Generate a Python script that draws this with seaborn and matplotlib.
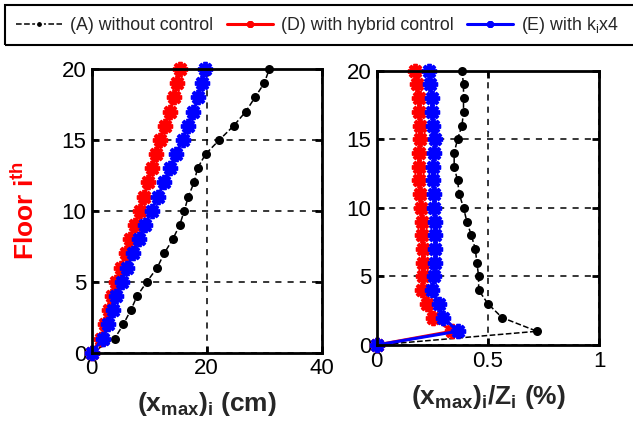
import numpy as np
import pandas as pd
import matplotlib
matplotlib.use("Agg")
import matplotlib.pyplot as plt
from matplotlib.patches import Rectangle
import seaborn as sns

# ---- data ----
floors = list(range(0, 21))
disp_A = [0, 4.0, 5.5, 6.8, 7.9, 9.6, 11.4, 12.6, 14.1, 15.3, 16.1, 16.8, 17.8, 18.4,
          19.8, 22.2, 24.7, 26.8, 28.4, 30.0, 30.9]
disp_D = [0, 1.7, 2.3, 3.0, 3.6, 4.3, 5.1, 5.9, 6.7, 7.5, 8.4, 9.1, 9.8, 10.5,
          11.2, 11.9, 12.8, 13.6, 14.3, 14.9, 15.3]
disp_E = [0, 2.0, 2.9, 3.7, 4.3, 5.2, 6.2, 7.2, 8.2, 9.3, 10.4, 11.5, 12.6, 13.6,
          14.7, 15.8, 16.8, 17.7, 18.5, 19.2, 19.7]
ratio_A = [0, 0.72, 0.563, 0.50, 0.458, 0.458, 0.45, 0.443, 0.425, 0.405, 0.39, 0.371,
           0.363, 0.348, 0.348, 0.363, 0.383, 0.39, 0.39, 0.39, 0.383]
ratio_D = [0, 0.338, 0.255, 0.225, 0.203, 0.21, 0.207, 0.207, 0.203, 0.203, 0.198, 0.195,
           0.192, 0.188, 0.192, 0.195, 0.195, 0.192, 0.188, 0.18, 0.173]
ratio_E = [0, 0.363, 0.30, 0.278, 0.248, 0.258, 0.263, 0.263, 0.263, 0.263, 0.258, 0.258,
           0.255, 0.252, 0.258, 0.263, 0.255, 0.248, 0.248, 0.24, 0.233]
labels = ["(A) without control", "(D) with hybrid control", r"(E) with k$_\mathrm{i}$x4"]
colors = ["black", "red", "blue"]

sns.set_theme(style="ticks")
plt.rcParams["font.family"] = ["Liberation Sans", "DejaVu Sans"]
plt.rcParams["mathtext.fontset"] = "custom"
plt.rcParams["mathtext.rm"] = "Liberation Sans"
plt.rcParams["mathtext.it"] = "Liberation Sans"
plt.rcParams["mathtext.bf"] = "Liberation Sans:bold"

fig = plt.figure(figsize=(6.33, 4.32), dpi=100)
ax1 = fig.add_axes([91.7/633, 1-352.7/432, (321.7-91.7)/633, (352.7-69)/432])
ax2 = fig.add_axes([376.7/633, 1-345/432, (599.3-376.7)/633, (345-70.7)/432])

star = (8, 2, 0)

def draw(ax, a, d, e):
    sns.lineplot(x=a, y=floors, sort=False, estimator=None, ax=ax, color=colors[0],
                 linestyle="--", linewidth=1.1, marker="o", markersize=6.5,
                 markeredgewidth=0, label=labels[0])
    sns.lineplot(x=d, y=floors, sort=False, estimator=None, ax=ax, color=colors[1],
                 linestyle="-", linewidth=2.2, marker=star, markersize=11,
                 markeredgewidth=2.8, markeredgecolor=colors[1], label=labels[1])
    sns.lineplot(x=e, y=floors, sort=False, estimator=None, ax=ax, color=colors[2],
                 linestyle="-", linewidth=2.2, marker=star, markersize=11,
                 markeredgewidth=2.8, markeredgecolor=colors[2], label=labels[2])

draw(ax1, disp_A, disp_D, disp_E)
draw(ax2, ratio_A, ratio_D, ratio_E)

for ax, xmax, xticks, xtl in [(ax1, 40, [0, 20, 40], ["0", "20", "40"]),
                              (ax2, 1, [0, 0.5, 1], ["0", "0.5", "1"])]:
    ax.set_xlim(0, xmax)
    ax.set_ylim(0, 20)
    ax.set_xticks(xticks)
    ax.set_xticklabels(xtl)
    ax.set_yticks([0, 5, 10, 15, 20])
    ax.grid(True, color="black", linestyle=(0, (4, 4)), linewidth=1.1)
    ax.tick_params(direction="in", length=5, width=2, labelsize=16, pad=4,
                   top=True, right=True, colors="black")
    for s in ax.spines.values():
        s.set_visible(True)
        s.set_linewidth(2)
        s.set_color("black")
    ax.set_xlabel("")
    ax.set_ylabel("")
    lg = ax.get_legend()
    if lg is not None:
        lg.remove()
    for ln in ax.lines:
        ln.set_clip_on(False)

ax1.set_xlabel(r"$\mathbf{(x_{max})_{i}\ (cm)}$", fontsize=19, labelpad=8)
ax2.set_xlabel(r"$\mathbf{(x_{max})_{i}/Z_{i}\ (\%)}$", fontsize=19, labelpad=8)
ax1.set_ylabel(r"Floor i$^{\mathbf{th}}$", fontsize=19, fontweight="bold",
               color="red", labelpad=16)

handles = ax1.lines[:3]
leg = fig.legend(handles, labels, loc="upper left", bbox_to_anchor=(7/633, 1-6/432),
                 ncol=3, fontsize=12.8, frameon=False, borderpad=0.5,
                 handlelength=2.6, handletextpad=0.45, columnspacing=0.75,
                 borderaxespad=0)
for h in leg.legend_handles:
    h.set_markersize(5)
    h.set_markeredgewidth(1.5)

fig.patches.append(Rectangle((5/633, 1-45/432), 640/633, 40/432,
                             transform=fig.transFigure, fill=False,
                             edgecolor="black", linewidth=1.5, clip_on=False))

fig.savefig("out.png", dpi=100)
